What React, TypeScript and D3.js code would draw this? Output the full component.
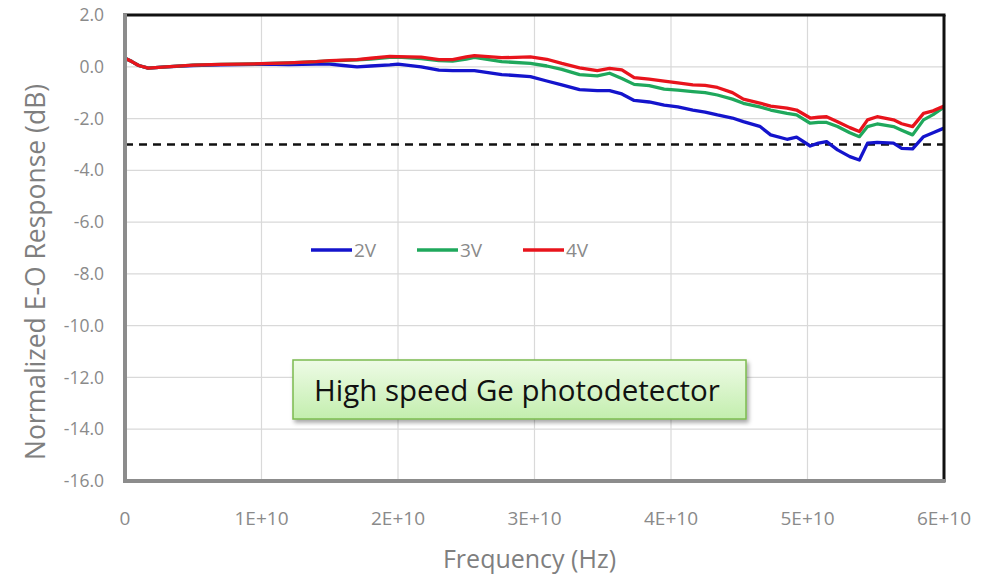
import React, { useMemo } from 'react';
import * as d3 from 'd3';

// frequency points in GHz (shared by all three curves)
const freqGHz = [0, 0.5, 1, 1.7, 3, 5, 7, 10, 12, 14, 15, 16, 17, 18, 19.4, 20, 21.7, 23, 24, 25, 25.6, 27.6, 29.7, 30.9, 32, 33.3, 34.6, 35.5, 36.4, 37.3, 38.4, 39.5, 40.5, 41.6, 42.5, 43.4, 44.5, 45.3, 46.5, 47.3, 48.5, 49.2, 50.2, 50.8, 51.4, 52.2, 53.1, 53.8, 54.4, 55.1, 56.3, 56.9, 57.7, 58.5, 59.2, 60];

const v2 = [0.33, 0.2, 0.05, -0.05, 0.0, 0.05, 0.07, 0.1, 0.08, 0.1, 0.1, 0.05, 0.0, 0.03, 0.07, 0.1, 0.0, -0.13, -0.15, -0.15, -0.15, -0.3, -0.38, -0.55, -0.7, -0.88, -0.92, -0.92, -1.05, -1.3, -1.36, -1.48, -1.55, -1.67, -1.75, -1.86, -1.98, -2.12, -2.3, -2.63, -2.8, -2.72, -3.06, -2.95, -2.89, -3.21, -3.47, -3.6, -2.95, -2.92, -2.95, -3.15, -3.17, -2.7, -2.55, -2.37];

const v3 = [0.33, 0.2, 0.05, -0.05, 0.0, 0.06, 0.09, 0.12, 0.15, 0.2, 0.23, 0.25, 0.27, 0.3, 0.36, 0.37, 0.32, 0.24, 0.22, 0.3, 0.36, 0.2, 0.13, 0.03, -0.1, -0.3, -0.35, -0.25, -0.45, -0.68, -0.73, -0.86, -0.9, -0.96, -1.0, -1.09, -1.25, -1.41, -1.55, -1.67, -1.8, -1.86, -2.18, -2.15, -2.15, -2.31, -2.55, -2.7, -2.31, -2.21, -2.31, -2.45, -2.63, -2.05, -1.85, -1.56];

const v4 = [0.33, 0.2, 0.05, -0.05, 0.0, 0.06, 0.09, 0.12, 0.15, 0.2, 0.24, 0.26, 0.28, 0.33, 0.4, 0.39, 0.37, 0.28, 0.28, 0.38, 0.43, 0.35, 0.38, 0.29, 0.13, -0.04, -0.15, -0.06, -0.12, -0.42, -0.48, -0.55, -0.62, -0.7, -0.72, -0.8, -1.0, -1.25, -1.4, -1.52, -1.6, -1.67, -1.98, -1.95, -1.93, -2.12, -2.35, -2.5, -2.05, -1.93, -2.05, -2.2, -2.31, -1.8, -1.7, -1.52];

const seriesNames = ['2V', '3V', '4V'];
const seriesColors = ['#1414cc', '#1fa85c', '#e8141c'];
const seriesValues = [v2, v3, v4];

const xTicks = [0, 1e10, 2e10, 3e10, 4e10, 5e10, 6e10];
const xTickLabels = ['0', '1E+10', '2E+10', '3E+10', '4E+10', '5E+10', '6E+10'];
const yTicks = [2, 0, -2, -4, -6, -8, -10, -12, -14, -16];
const cutoffDb = -3;
const boxText = 'High speed Ge photodetector';

const W = 987;
const H = 580;
const font = '"Open Sans", "Noto Sans", sans-serif';

export default function App() {
  const x = useMemo(() => d3.scaleLinear().domain([0, 6e10]).range([125, 944]), []);
  const y = useMemo(() => d3.scaleLinear().domain([-16, 2]).range([481, 15]), []);

  const line = d3
    .line<number>()
    .x((_, i) => x(freqGHz[i] * 1e9))
    .y((d) => y(d));

  const [x0, x1] = x.range();
  const [y0, y1] = y.range();

  return (
    <svg
      width={W}
      height={H}
      style={{ position: 'absolute', left: 0, top: 0, background: '#fff' }}
      fontFamily={font}
    >
      <defs>
        <linearGradient id="boxFill" x1="0" y1="0" x2="0" y2="1">
          <stop offset="0%" stopColor="#eefbe6" />
          <stop offset="100%" stopColor="#c3eeae" />
        </linearGradient>
        <filter id="shadow" x="-10%" y="-30%" width="120%" height="160%">
          <feDropShadow dx="2" dy="3" stdDeviation="2" floodColor="#000" floodOpacity="0.35" />
        </filter>
      </defs>

      {/* gridlines */}
      {xTicks.map((t) => (
        <line key={'gx' + t} x1={x(t)} x2={x(t)} y1={y1} y2={y0} stroke="#d9d9d9" strokeWidth={1.2} />
      ))}
      {yTicks.map((t) => (
        <line key={'gy' + t} x1={x0} x2={x1} y1={y(t)} y2={y(t)} stroke="#d9d9d9" strokeWidth={1.2} />
      ))}

      {/* y tick labels */}
      {yTicks.map((t) => (
        <text key={'ty' + t} x={104} y={y(t)} dy="0.35em" textAnchor="end" fontSize={17.5} fill="#8a8a8a">
          {t.toFixed(1)}
        </text>
      ))}
      {/* x tick labels */}
      {xTicks.map((t, i) => (
        <text key={'tx' + t} x={x(t)} y={525} textAnchor="middle" fontSize={19} fill="#8a8a8a">
          {xTickLabels[i]}
        </text>
      ))}

      {/* axis titles */}
      <text
        transform={`translate(45,${(y0 + y1) / 2 + 24}) rotate(-90)`}
        textAnchor="middle"
        fontSize={26.5}
        fill="#7f7f7f"
      >
        Normalized E-O Response (dB)
      </text>
      <text x={(x0 + x1) / 2 - 5} y={568} textAnchor="middle" fontSize={25} fill="#7f7f7f">
        Frequency (Hz)
      </text>

      {/* -3 dB line */}
      <line
        x1={x0}
        x2={x1}
        y1={y(cutoffDb)}
        y2={y(cutoffDb)}
        stroke="#111"
        strokeWidth={2.5}
        strokeDasharray="8 6"
      />

      {/* curves */}
      {seriesValues.map((vals, i) => (
        <path key={seriesNames[i]} d={line(vals) ?? ''} fill="none" stroke={seriesColors[i]} strokeWidth={3.3} strokeLinejoin="round" />
      ))}

      {/* frame: top/right black, left/bottom grey */}
      <line x1={x0 - 2} x2={x1 + 1.5} y1={y1} y2={y1} stroke="#111" strokeWidth={3} />
      <line x1={x1} x2={x1} y1={y1} y2={y0 + 1} stroke="#111" strokeWidth={3} />
      <line x1={x0} x2={x0} y1={y1 - 1.5} y2={y0 + 2} stroke="#8c8c8c" strokeWidth={4} />
      <line x1={x0} x2={x1 + 1.5} y1={y0} y2={y0} stroke="#8c8c8c" strokeWidth={4} />

      {/* legend */}
      {seriesNames.map((n, i) => {
        const lx = 311 + i * 106;
        return (
          <g key={'lg' + n}>
            <line x1={lx} x2={lx + 41} y1={250} y2={250} stroke={seriesColors[i]} strokeWidth={3.5} />
            <text x={lx + 43} y={250} dy="0.35em" fontSize={19} fill="#8a8a8a">
              {n}
            </text>
          </g>
        );
      })}

      {/* annotation box */}
      <rect x={293} y={360} width={453} height={59} fill="url(#boxFill)" stroke="#7cbb4f" strokeWidth={1.5} filter="url(#shadow)" />
      <text x={314} y={401} fontSize={29.5} fill="#111">
        {boxText}
      </text>
    </svg>
  );
}
